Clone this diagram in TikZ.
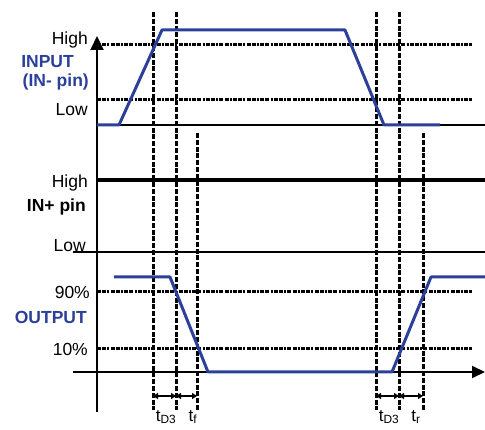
\documentclass[tikz,border=0pt]{standalone}
\usepackage{fontspec}
\setmainfont{Liberation Sans}
\usetikzlibrary{arrows.meta}
\definecolor{trace}{RGB}{44,64,154}
\begin{document}
\begin{tikzpicture}[x=1pt,y=-1pt,
  lbl/.style={anchor=east,inner sep=0pt,font=\fontsize{17.5}{20}\selectfont},
  blbl/.style={lbl,font=\fontsize{17.5}{20}\selectfont\bfseries},
  hdots/.style={draw=black,line width=3pt,dash pattern=on 4pt off 1.2pt on 4pt off 1.2pt on 2pt off 1.2pt},
  vdash/.style={draw=black,line width=3pt,dash pattern=on 5pt off 1.8pt},
  sig/.style={draw=trace,line width=3pt,line join=round},
  axisline/.style={draw=black,line width=2pt},
  tim/.style={draw=black,line width=1.4pt,{Triangle[length=5pt,width=6pt]}-{Triangle[length=5pt,width=6pt]}},
  tl/.style={anchor=north,inner sep=0pt,font=\fontsize{17}{19}\selectfont}]
\useasboundingbox (0,0) rectangle (485,430);
\clip (0,0) rectangle (485,430);
% coordinates
\coordinate (ax0) at (97,412);
\coordinate (ax1) at (97,36);
\coordinate (hiL) at (97,45);  \coordinate (hiR) at (472,45);
\coordinate (loL) at (97,100); \coordinate (loR) at (472,100);
\coordinate (inL) at (97,125); \coordinate (inR) at (485,125);
\coordinate (pHL) at (97,180); \coordinate (pHR) at (485,180);
\coordinate (pLL) at (73,252); \coordinate (pLR) at (485,252);
\coordinate (n9L) at (97,292); \coordinate (n9R) at (472,292);
\coordinate (n1L) at (97,349); \coordinate (n1R) at (472,349);
\coordinate (oL) at (73,372);  \coordinate (oR) at (485,372);
% vertical dashed markers
\foreach \n/\x/\t in {v1/153/12, v2/176/12, v3/197/133, v4/376/12, v5/399/12, v6/423/133}{
  \coordinate (\n t) at (\x,\t); \coordinate (\n b) at (\x,410);
}
% horizontal dotted levels
\draw[hdots] (hiL) -- (hiR);
\draw[hdots] (loL) -- (loR);
\draw[hdots] (n9L) -- (n9R);
\draw[hdots] (n1L) -- (n1R);
\foreach \n in {v1,v2,v3,v4,v5,v6}{ \draw[vdash] (\n t) -- (\n b); }
% solid lines
\draw[draw=black,line width=1.6pt] (inL) -- (inR);
\draw[draw=black,line width=3.2pt] (pHL) -- (pHR);
\draw[draw=black,line width=1.6pt] (pLL) -- (pLR);
\draw[axisline,-{Triangle[length=13pt,width=12pt]}] (oL) -- (oR);
\draw[axisline,-{Triangle[length=14pt,width=13pt]}] (ax0) -- (ax1);
% input signal
\coordinate (i0) at (97,125); \coordinate (i1) at (119,125);
\coordinate (i2) at (162,30); \coordinate (i3) at (345,30);
\coordinate (i4) at (384,125); \coordinate (i5) at (440,125);
\draw[sig] (i0) -- (i1) -- (i2) -- (i3) -- (i4) -- (i5);
% output signal
\coordinate (o0) at (114,277); \coordinate (o1) at (170,277);
\coordinate (o2) at (208,372); \coordinate (o3) at (392,372);
\coordinate (o4) at (431,277); \coordinate (o5) at (485,277);
\draw[sig] (o0) -- (o1) -- (o2) -- (o3) -- (o4) -- (o5);
% timing arrows
\coordinate (a1) at (153,396); \coordinate (a2) at (176,396); \coordinate (a3) at (197,396);
\coordinate (a4) at (376,396); \coordinate (a5) at (399,396); \coordinate (a6) at (423,396);
\draw[tim] (a1) -- (a2);
\draw[tim] (a2) -- (a3);
\draw[tim] (a4) -- (a5);
\draw[tim] (a5) -- (a6);
% timing labels
\node[tl] (td1) at (166,410) {t\textsubscript{D3}};
\node[tl] (tf) at (193,410) {t\textsubscript{f}};
\node[tl] (td2) at (389,410) {t\textsubscript{D3}};
\node[tl] (tr) at (416,410) {t\textsubscript{r}};
% axis labels
\node[lbl] (hi1) at (88,40) {High};
\node[blbl,text=trace] (inp) at (74,62) {INPUT};
\node[blbl,text=trace] (inpin) at (89,82) {(IN- pin)};
\node[lbl] (lo1) at (88,110) {Low};
\node[lbl] (hi2) at (88,183) {High};
\node[blbl] (ppin) at (86,207) {IN+ pin};
\node[lbl] (lo2) at (86,246) {Low};
\node[lbl] (p90) at (90,292) {90\%};
\node[blbl,text=trace] (outp) at (87,317) {OUTPUT};
\node[lbl] (p10) at (88,349) {10\%};
\end{tikzpicture}
\end{document}
